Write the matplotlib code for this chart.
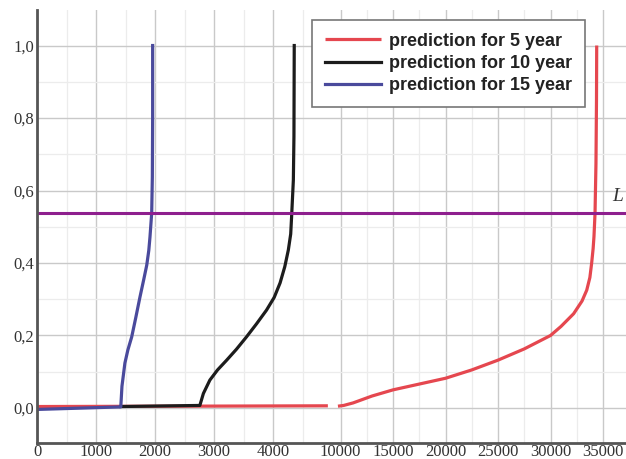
import numpy as np
import matplotlib.pyplot as plt
from matplotlib.ticker import FixedLocator, FuncFormatter

# piecewise axis: 0-5000 stretched, 5000-10000 squeezed, 10000+ compressed
x_break = [0, 5000, 10000, 50000]
x_pos = [0, 295, 303.5, 723.5]

# 5 year prediction (drawn in two pieces)
x5_a = [0, 4930]
y5_a = [0.004, 0.006]
x5_b = [8500, 10300, 11200, 13000, 15000, 17500, 20000, 22500, 25000, 27500, 30000,
        31000, 32200, 33000, 33450, 33750, 33920, 34060, 34140, 34240, 34330, 34380, 34400]
y5_b = [0.005, 0.007, 0.014, 0.033, 0.05, 0.066, 0.082, 0.105, 0.132, 0.163, 0.2,
        0.225, 0.26, 0.295, 0.325, 0.36, 0.4, 0.44, 0.473, 0.537, 0.675, 0.85, 1.0]

# 10 year prediction
x10 = [1420, 2760, 2820, 2930, 3060, 3215, 3380, 3550, 3720, 3890, 4020, 4120,
       4200, 4260, 4300, 4315, 4345, 4355, 4360]
y10 = [0.004, 0.007, 0.04, 0.077, 0.105, 0.132, 0.162, 0.196, 0.232, 0.27, 0.305, 0.345,
       0.39, 0.436, 0.48, 0.527, 0.629, 0.75, 1.0]

# 15 year prediction
x15 = [0, 1420, 1440, 1490, 1540, 1605, 1675, 1745, 1810, 1860, 1895, 1915,
       1944, 1955, 1960, 1960]
y15 = [-0.004, 0.003, 0.06, 0.124, 0.16, 0.196, 0.25, 0.306, 0.355, 0.394, 0.435, 0.472,
       0.538, 0.637, 0.8, 1.0]

level_L = 0.538

x_ticks = [0, 1000, 2000, 3000, 4000, 10000, 15000, 20000, 25000, 30000, 35000]
x_minor = [500, 1500, 2500, 3500, 4500, 12500, 17500, 22500, 27500, 32500]
y_ticks = [0.0, 0.2, 0.4, 0.6, 0.8, 1.0]
y_minor = [0.1, 0.3, 0.5, 0.7, 0.9]


def fwd(x):
    return np.interp(x, x_break, x_pos)


def inv(p):
    return np.interp(p, x_pos, x_break)


fig = plt.figure(figsize=(6.26, 4.59), dpi=100)
ax = fig.add_axes([37 / 626, 16 / 459, 589 / 626, 433 / 459])
ax.set_xscale('function', functions=(fwd, inv))

red = '#e5474f'
black = '#1c1c1c'
blue = '#4a4a9c'
lw = 2.3

ax.plot(x5_a, y5_a, color=red, lw=lw, solid_capstyle='butt')
ax.plot(x5_b, y5_b, color=red, lw=lw, solid_joinstyle='round',
        solid_capstyle='butt', label='prediction for 5 year')
ax.plot(x10, y10, color=black, lw=lw, solid_joinstyle='round',
        label='prediction for 10 year')
ax.plot(x15, y15, color=blue, lw=lw, solid_joinstyle='round',
        label='prediction for 15 year')

ax.axhline(level_L, color='#8e1f8e', lw=2.2)
ax.text(35900, level_L + 0.045, 'L', fontsize=14, style='italic',
        family='Liberation Serif', color='#333333', va='center')

ax.set_xlim(0, 37190)
ax.set_ylim(-0.0966, 1.098)

ax.xaxis.set_major_locator(FixedLocator(x_ticks))
ax.xaxis.set_minor_locator(FixedLocator(x_minor))
ax.yaxis.set_major_locator(FixedLocator(y_ticks))
ax.yaxis.set_minor_locator(FixedLocator(y_minor))
ax.xaxis.set_major_formatter(FuncFormatter(lambda v, p: f'{int(v)}'))
ax.yaxis.set_major_formatter(FuncFormatter(lambda v, p: f'{v:.1f}'.replace('.', ',')))

ax.grid(which='major', color='#c9c9c9', lw=1.0)
ax.grid(which='minor', color='#ececec', lw=0.9)
ax.set_axisbelow(True)

for s in ['top', 'right']:
    ax.spines[s].set_visible(False)
for s in ['left', 'bottom']:
    ax.spines[s].set_color('#555555')
    ax.spines[s].set_linewidth(2)

ax.tick_params(which='both', length=0)
ax.tick_params(axis='x', pad=1)
ax.tick_params(axis='y', pad=2)
for lab in ax.get_xticklabels() + ax.get_yticklabels():
    lab.set_family('Liberation Serif')
    lab.set_fontsize(12)
    lab.set_color('#333333')

leg = ax.legend(loc='upper right', bbox_to_anchor=(0.93, 0.977), borderaxespad=0,
                fancybox=False, handlelength=3.1, handletextpad=0.45,
                labelspacing=0.3, borderpad=0.7,
                prop={'family': 'Liberation Sans', 'weight': 'bold', 'size': 13})
leg.get_frame().set_edgecolor('#777777')
leg.get_frame().set_linewidth(1.2)
leg.get_frame().set_alpha(1)
for t in leg.get_texts():
    t.set_color('#222222')

fig.savefig('out.png', dpi=100)
